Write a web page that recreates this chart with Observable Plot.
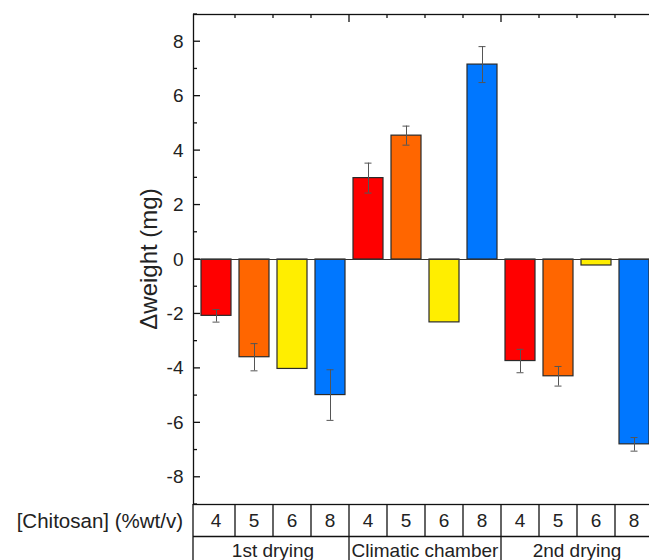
<!DOCTYPE html>
<html><head><meta charset="utf-8">
<script src="https://cdn.jsdelivr.net/npm/d3@7"></script>
<script src="https://cdn.jsdelivr.net/npm/@observablehq/plot@0.6"></script>
<style>html,body{margin:0;padding:0;overflow:hidden;background:#fff} svg{display:block;max-width:none !important}</style>
</head><body><div id="chart"></div>
<script>
const stages = ["1st drying", "Climatic chamber", "2nd drying"];
const concentrations = ["4", "5", "6", "8"];
const dWeight = [
  [-2.07, -3.59, -4.02, -4.98],
  [2.99, 4.55, -2.31, 7.16],
  [-3.73, -4.29, -0.22, -6.79]
];
const dWeightErr = [
  [0.23, 0.50, null, 0.93],
  [0.55, 0.35, null, 0.66],
  [0.43, 0.36, null, 0.25]
];
const yTicks = [-8, -6, -4, -2, 0, 2, 4, 6, 8];
const yMinorTicks = [-9, -7, -5, -3, -1, 1, 3, 5, 7, 9];
const barColors = ["#ff0000", "#ff6600", "#ffee00", "#0077ff"];
const rowLabel = "[Chitosan] (%wt/v)";
const yLabel = "\u0394weight (mg)";

const rows = [];
stages.forEach((s, i) => concentrations.forEach((c, j) => {
  rows.push({key: s + "|" + c, stage: s, conc: c, value: dWeight[i][j], err: dWeightErr[i][j], color: barColors[j]});
}));
const keys = rows.map(d => d.key);
const errRows = rows.filter(d => d.err != null);

const W = 657, H = 560;
const FONT = "'Liberation Sans', Arial, sans-serif";
const plot = Plot.plot({
  width: W, height: H,
  marginLeft: 193, marginRight: 0, marginTop: 14, marginBottom: 56,
  style: {fontFamily: FONT, background: "#fff", overflow: "visible", color: "#222", maxWidth: "none"},
  x: {type: "band", domain: keys, paddingInner: 0.2, paddingOuter: 0.1, axis: null},
  y: {domain: [-9, 9], axis: null},
  color: {type: "identity"},
  marks: [
    Plot.barY(rows, {x: "key", y: "value", fill: "color", stroke: "#2a2a2a", strokeWidth: 1.2}),
    Plot.ruleY([0], {stroke: "#333", strokeWidth: 1}),
    Plot.ruleX(errRows, {x: "key", y1: d => d.value - d.err, y2: d => d.value + d.err, stroke: "#555", strokeWidth: 1}),
    Plot.tickY(errRows, {x: "key", y: d => d.value + d.err, stroke: "#555", strokeWidth: 1, insetLeft: 11.5, insetRight: 11.5}),
    Plot.tickY(errRows, {x: "key", y: d => d.value - d.err, stroke: "#555", strokeWidth: 1, insetLeft: 11.5, insetRight: 11.5}),
    Plot.frame({stroke: "#111", strokeWidth: 1.3}),
    Plot.axisY(yTicks, {anchor: "left", label: null, tickSize: 0, tickPadding: 10, fontSize: 19, tickFormat: d => String(d), fill: "#222"})
  ]
});
document.getElementById("chart").appendChild(plot);

const xs = plot.scale("x"), ys = plot.scale("y");
const svg = d3.select(plot);
const g = svg.append("g").attr("font-family", FONT).attr("fill", "#222");
const frameL = 193, frameR = W, frameT = ys.apply(9), frameB = ys.apply(-9);
const step = xs.step, pad = (xs.step - xs.bandwidth) / 2;
const cellLeft = k => xs.apply(k) - pad;

const line = (x1, y1, x2, y2, w = 1.3) => g.append("line").attr("x1", x1).attr("y1", y1).attr("x2", x2).attr("y2", y2).attr("stroke", "#111").attr("stroke-width", w);
yTicks.forEach(v => { line(frameL, ys.apply(v), frameL + 7, ys.apply(v)); line(frameR, ys.apply(v), frameR - 8, ys.apply(v)); });
yMinorTicks.forEach(v => { line(frameL, ys.apply(v), frameL + 4, ys.apply(v)); line(frameR, ys.apply(v), frameR - 4, ys.apply(v)); });
keys.forEach((k, i) => { if (i === 0) return; const x = cellLeft(k); line(x, frameT, x, frameT + (i % 4 === 0 ? 8 : 4)); });

g.append("text").attr("transform", `translate(148,${ys.apply(0)}) rotate(-90)`)
  .attr("text-anchor", "middle").attr("dominant-baseline", "central").attr("font-size", 24).text(yLabel);

const row1B = frameB + 32.5, row2B = H + 5;
line(frameL, frameB, frameL, row2B);
line(frameL, row1B, frameR, row1B);
keys.forEach((k, i) => {
  const x = cellLeft(k);
  if (i > 0) line(x, frameB, x, i % 4 === 0 ? row2B : row1B);
  g.append("text").attr("x", x + step / 2).attr("y", (frameB + row1B) / 2).attr("text-anchor", "middle")
    .attr("dominant-baseline", "central").attr("font-size", 19).text(rows[i].conc);
});
stages.forEach((s, i) => {
  const x0 = cellLeft(keys[i * 4]), x1 = x0 + 4 * step;
  g.append("text").attr("x", (x0 + x1) / 2).attr("y", 557).attr("text-anchor", "middle").attr("font-size", 19).text(s);
});
g.append("text").attr("x", 183).attr("y", (frameB + row1B) / 2).attr("text-anchor", "end")
  .attr("dominant-baseline", "central").attr("font-size", 20.5).text(rowLabel);
</script>
</body></html>
